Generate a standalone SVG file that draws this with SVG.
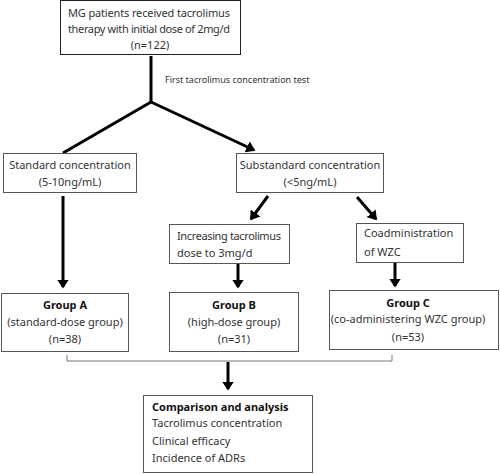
<svg xmlns="http://www.w3.org/2000/svg" width="500" height="474" viewBox="0 0 500 474">
<style>
.box{fill:#fff;stroke:#555;stroke-width:1}
.t{font-family:"Noto Sans","Liberation Sans",sans-serif;font-size:11px;fill:#333}
.c{text-anchor:middle}
.b{font-weight:bold;fill:#111}
.ln{stroke:#000;stroke-width:3;fill:none}
.br{stroke:#777;stroke-width:1;fill:none}
</style>
<defs>
<marker id="ah" markerWidth="4" markerHeight="4" refX="2.5" refY="2" orient="auto" markerUnits="strokeWidth">
<path d="M0,0 L3,2 L0,4 z" fill="#000"/>
</marker>
</defs>
<g id="connectors">
<path class="ln" d="M151,56 V102"/>
<path class="ln" d="M151,102 L63,153"/>
<path class="ln" d="M151,102 L254,150" marker-end="url(#ah)"/>
<path class="ln" d="M268,196 L251,219" marker-end="url(#ah)"/>
<path class="ln" d="M357,197 L376,219" marker-end="url(#ah)"/>
<path class="ln" d="M63,196 V287" marker-end="url(#ah)"/>
<path class="ln" d="M238,263 V287" marker-end="url(#ah)"/>
<path class="ln" d="M395,263 V286" marker-end="url(#ah)"/>
<path class="br" d="M67,355 V361 H392 V355"/>
<path class="ln" d="M228,362 V389" marker-end="url(#ah)"/>
<text class="t" x="165" y="83" font-size="9" style="font-size:9px">First tacrolimus concentration test</text>
</g>
<g id="top">
<rect x="60.5" y="0.5" width="180" height="54" style="fill:#fff;stroke:#222;stroke-width:1"/>
<text class="t" x="68" y="17" textLength="162" lengthAdjust="spacing">MG patients received tacrolimus</text>
<text class="t" x="68" y="33" textLength="162" lengthAdjust="spacing">therapy with initial dose of 2mg/d</text>
<text class="t c" x="150" y="49">(n=122)</text>
</g>
<g id="standard">
<rect class="box" x="3.5" y="153.5" width="133" height="39"/>
<text class="t c" x="70" y="169">Standard concentration</text>
<text class="t c" x="70" y="186">(5-10ng/mL)</text>
</g>
<g id="substandard">
<rect class="box" x="236.5" y="153.5" width="147" height="39"/>
<text class="t c" x="310" y="169">Substandard concentration</text>
<text class="t c" x="310" y="186">(&lt;5ng/mL)</text>
</g>
<g id="increasing">
<rect class="box" x="169.5" y="224.5" width="120" height="39"/>
<text class="t" x="177" y="240" textLength="104" lengthAdjust="spacing">Increasing tacrolimus</text>
<text class="t" x="177" y="257">dose to 3mg/d</text>
</g>
<g id="coadmin">
<rect class="box" x="356.5" y="223.5" width="107" height="39"/>
<text class="t" x="364" y="237">Coadministration</text>
<text class="t" x="364" y="256">of WZC</text>
</g>
<g id="groupA">
<rect class="box" x="1.5" y="293.5" width="127" height="58"/>
<text class="t c b" x="65" y="309">Group A</text>
<text class="t c" x="65" y="326">(standard-dose group)</text>
<text class="t c" x="65" y="343">(n=38)</text>
</g>
<g id="groupB">
<rect class="box" x="169.5" y="292.5" width="129" height="59"/>
<text class="t c b" x="234" y="309">Group B</text>
<text class="t c" x="234" y="326">(high-dose group)</text>
<text class="t c" x="234" y="343">(n=31)</text>
</g>
<g id="groupC">
<rect class="box" x="329.5" y="290.5" width="169" height="59"/>
<text class="t c b" x="408" y="307">Group C</text>
<text class="t c" x="408" y="323">(co-administering WZC group)</text>
<text class="t c" x="408" y="341">(n=53)</text>
</g>
<g id="comparison">
<rect class="box" x="143.5" y="395.5" width="169" height="77"/>
<text class="t b" x="152" y="411">Comparison and analysis</text>
<text class="t" x="152" y="427">Tacrolimus concentration</text>
<text class="t" x="152" y="445">Clinical efficacy</text>
<text class="t" x="152" y="462">Incidence of ADRs</text>
</g>
</svg>
